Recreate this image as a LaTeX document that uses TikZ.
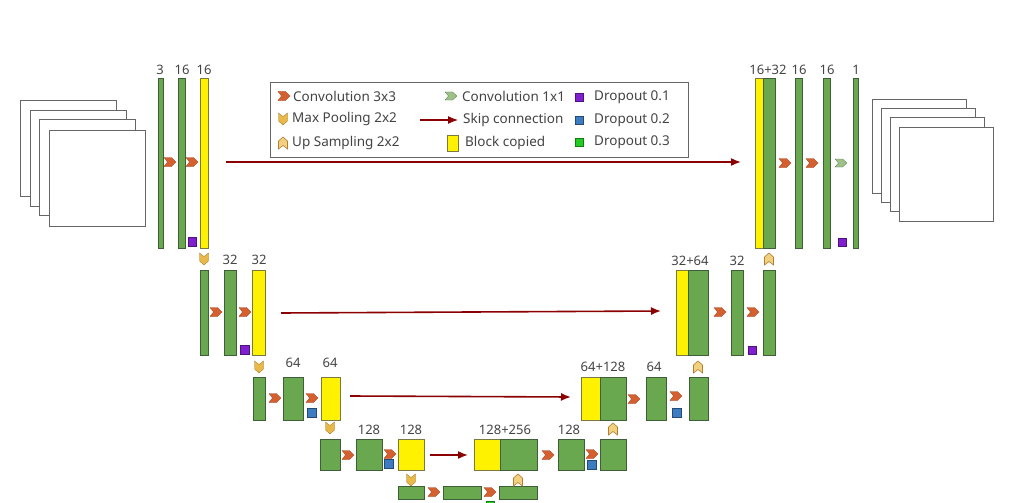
\documentclass[tikz,border=0pt]{standalone}
\usepackage{fontspec}
\setmainfont{Noto Sans}
\begin{document}
\begin{tikzpicture}[x=1pt,y=-1pt,
  g/.style={fill=gfill,draw=gline,line width=0.6pt},
  yb/.style={fill=yellow,draw=ylin,line width=0.6pt},
  sq/.style={draw=white!40!black,line width=0.6pt,fill=white},
  skip/.style={draw=skipc,line width=1.6pt,-{Latex[length=10pt,width=8pt]}},
  lab/.style={text=txt,font=\fontsize{13}{15}\selectfont,inner sep=0pt},
  leg/.style={text=txt,font=\fontsize{13.5}{16}\selectfont,inner sep=0pt,anchor=west},
  convr/.pic={\fill[fill=convc,draw=convd,line width=0.3pt] (-6,-4.5)--(1.5,-4.5)--(6,0)--(1.5,4.5)--(-6,4.5)--(-2.5,0)--cycle;},
  conv1/.pic={\fill[fill=c1c,draw=c1d,line width=0.3pt] (-6,-4)--(1.5,-4)--(6,0)--(1.5,4)--(-6,4)--(-2.5,0)--cycle;},
  pool/.pic={\fill[fill=poolc,draw=poold,line width=0.3pt] (-4.5,-6)--(0,-2.5)--(4.5,-6)--(4.5,2)--(0,6)--(-4.5,2)--cycle;},
  ups/.pic={\filldraw[fill=upc,draw=upd,line width=0.6pt] (-4.5,6)--(0,2.5)--(4.5,6)--(4.5,-2)--(0,-6)--(-4.5,-2)--cycle;},
  d1/.style={fill=purp,draw=purp!60!black,line width=0.3pt},
  d2/.style={fill=blu,draw=blu!60!black,line width=0.3pt},
  d3/.style={fill=grn,draw=grn!60!black,line width=0.3pt}]
\usetikzlibrary{arrows.meta}
\definecolor{gfill}{HTML}{6AA84F}\definecolor{gline}{HTML}{3F5F38}
\definecolor{ylin}{HTML}{7A7A40}\definecolor{txt}{HTML}{444444}
\definecolor{skipc}{HTML}{8B0000}\definecolor{convc}{HTML}{D3602E}\definecolor{convd}{HTML}{A04020}
\definecolor{c1c}{HTML}{9CC28A}\definecolor{c1d}{HTML}{5E8050}
\definecolor{poolc}{HTML}{E8B848}\definecolor{poold}{HTML}{A07820}
\definecolor{upc}{HTML}{F3D080}\definecolor{upd}{HTML}{B08030}
\definecolor{purp}{HTML}{7F1FD0}\definecolor{blu}{HTML}{3D7CC0}\definecolor{grn}{HTML}{22CC22}
\useasboundingbox[fill=white] (0,0) rectangle (1015,503);
% input stack
\foreach \i/\x/\y in {0/20/100,1/30/110,2/39/119,3/49/130}{\draw[sq] (\x,\y) rectangle ++(96,96);}
% output stack
\foreach \i/\x/\y in {0/872/99,1/881/108,2/890/117,3/899/127}{\draw[sq] (\x,\y) rectangle ++(94,94);}
% level 1
\draw[g] (158,78) rectangle (163,248); \draw[g] (178,78) rectangle (185,248); \draw[yb] (200,78) rectangle (208,248);
\node[lab] at (160,70) {3}; \node[lab] at (182,70) {16}; \node[lab] at (204,70) {16};
\pic at (170,162) {convr}; \pic at (192,162) {convr};
\draw[d1] (188,237) rectangle (196,246);
\coordinate (s1a) at (226,162); \coordinate (s1b) at (741,162);
\draw[skip] (s1a) -- (s1b);
\draw[yb] (755,78) rectangle (763,248); \draw[g] (763,78) rectangle (775,248);
\draw[g] (795,78) rectangle (802,248); \draw[g] (823,78) rectangle (830,248); \draw[g] (853,78) rectangle (858,248);
\node[lab] at (768,70) {16+32}; \node[lab] at (799,70) {16}; \node[lab] at (827,70) {16}; \node[lab] at (856,70) {1};
\pic at (785,163) {convr}; \pic at (812,163) {convr}; \pic at (841,163) {conv1};
\draw[d1] (838,238) rectangle (846,246);
\pic at (769,259) {ups};
% level 2
\pic at (204,259) {pool};
\draw[g] (200,270) rectangle (208,355); \draw[g] (224,270) rectangle (236,355); \draw[yb] (252,270) rectangle (265,355);
\node[lab] at (230,260) {32}; \node[lab] at (259,260) {32};
\pic at (216,312) {convr}; \pic at (245,312) {convr};
\draw[d1] (240,345) rectangle (249,354);
\coordinate (s2a) at (281,313); \coordinate (s2b) at (661,311);
\draw[skip] (s2a) -- (s2b);
\draw[yb] (676,270) rectangle (688,355); \draw[g] (688,270) rectangle (708,355);
\draw[g] (731,270) rectangle (743,355); \draw[g] (763,270) rectangle (775,355);
\node[lab] at (690,261) {32+64}; \node[lab] at (737,261) {32};
\pic at (720,312) {convr}; \pic at (753,312) {convr};
\draw[d1] (748,346) rectangle (756,354);
\pic at (698,367) {ups};
% level 3
\pic at (259,367) {pool};
\draw[g] (253,377) rectangle (265,420); \draw[g] (283,377) rectangle (303,420); \draw[yb] (321,377) rectangle (340,420);
\node[lab] at (293,363) {64}; \node[lab] at (330,363) {64};
\pic at (275,398) {convr}; \pic at (312,398) {convr};
\draw[d2] (307,408) rectangle (316,417);
\coordinate (s3a) at (350,396); \coordinate (s3b) at (571,397);
\draw[skip] (s3a) -- (s3b);
\draw[yb] (581,377) rectangle (600,420); \draw[g] (600,377) rectangle (626,420);
\draw[g] (646,377) rectangle (666,420); \draw[g] (689,377) rectangle (708,420);
\node[lab] at (603,367) {64+128}; \node[lab] at (654,367) {64};
\pic at (634,399) {convr}; \pic at (676,396) {convr};
\draw[d2] (672,408) rectangle (681,417);
\pic at (613,429) {ups};
% level 4
\pic at (330,428) {pool};
\draw[g] (320,439) rectangle (340,470); \draw[g] (356,439) rectangle (382,470); \draw[yb] (398,439) rectangle (424,470);
\node[lab] at (369,430) {128}; \node[lab] at (411,430) {128};
\pic at (348,455) {convr}; \pic at (390,454) {convr};
\draw[d2] (384,459) rectangle (393,468);
\coordinate (s4a) at (430,455); \coordinate (s4b) at (468,455);
\draw[skip] (s4a) -- (s4b);
\draw[yb] (474,439) rectangle (500,470); \draw[g] (500,439) rectangle (537,470);
\draw[g] (558,439) rectangle (584,470); \draw[g] (600,439) rectangle (626,470);
\node[lab] at (505,430) {128+256}; \node[lab] at (569,430) {128};
\pic at (548,455) {convr}; \pic at (592,454) {convr};
\draw[d2] (587,460) rectangle (596,469);
% level 5
\draw[g] (398,486) rectangle (424,499); \draw[g] (443,486) rectangle (481,499); \draw[g] (499,486) rectangle (537,499);
\pic at (411,480) {pool};
\pic at (434,492) {convr}; \pic at (490,492) {convr};
\pic at (518,480) {ups};
\node[lab] at (462,509) {256};
\draw[d3] (486,501) rectangle (494,509);
% legend
\node[draw=black!60,line width=0.6pt,minimum width=418pt,minimum height=75pt,anchor=north west,inner sep=0pt] (legend) at (270,82) {};
\pic at (284,96) {convr}; \node[leg] at (293,96) {Convolution 3x3};
\pic at (283,119) {pool}; \node[leg] at (292,119) {Max Pooling 2x2};
\pic at (283,143) {ups}; \node[leg] at (292,143) {Up Sampling 2x2};
\pic at (451,96) {conv1}; \node[leg] at (462,96) {Convolution 1x1};
\coordinate (la) at (420,120); \coordinate (lb) at (458,120);
\draw[skip,line width=1.2pt] (la) -- (lb); \node[leg] at (463,120) {Skip connection};
\draw[yb] (447,135) rectangle (458,151); \node[leg] at (465,143) {Block copied};
\draw[d1] (575,93) rectangle (583,101); \node[leg] at (594,97) {Dropout 0.1};
\draw[d2] (575,116) rectangle (583,124); \node[leg] at (594,120) {Dropout 0.2};
\draw[d3] (575,138) rectangle (583,146); \node[leg] at (594,142) {Dropout 0.3};
\end{tikzpicture}
\end{document}
